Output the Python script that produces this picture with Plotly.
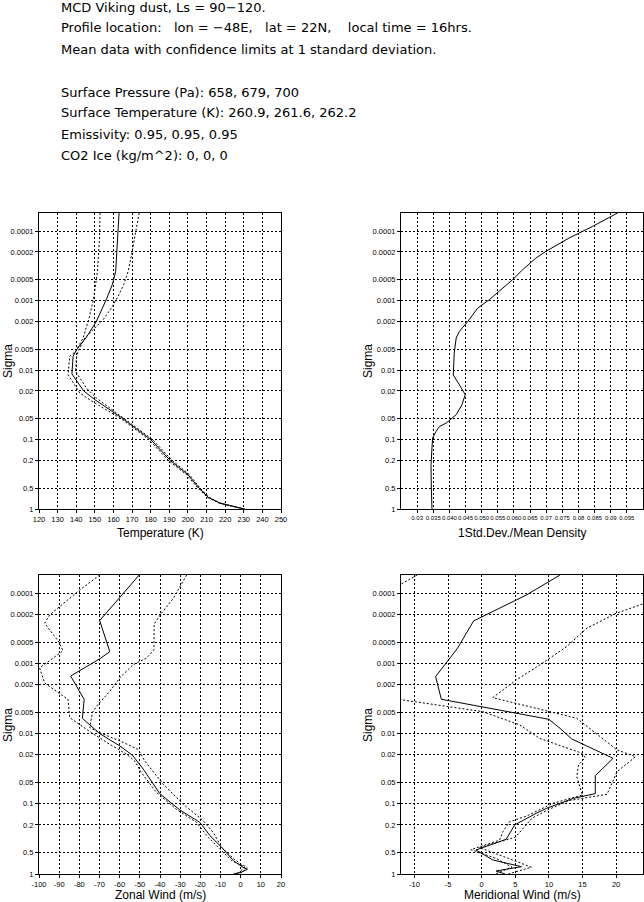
import plotly.graph_objects as go

# ---------------- data ----------------
sigma_ticks = [1, 0.5, 0.2, 0.1, 0.05, 0.02, 0.01, 0.005, 0.002, 0.001, 0.0005, 0.0002, 0.0001]
sigma_tick_text = ["1", "0.5", "0.2", "0.1", "0.05", "0.02", "0.01", "0.005", "0.002", "0.001", "0.0005", "0.0002", "0.0001"]

# Temperature (K)
sig_T_mean = [5.5e-5, 1e-4, 2e-4, 3.8e-4, 5.9e-4, 1e-3, 2e-3, 3.28e-3, 5e-3, 6.35e-3, 0.0114, 0.02, 0.0267, 0.05, 0.1, 0.2, 0.32, 0.5, 0.68, 0.82, 0.915, 1.0]
T_mean = [163.0, 162.5, 162.0, 161.2, 159.4, 155.9, 150.8, 145.8, 140.4, 138.3, 137.7, 144.0, 150.0, 165.0, 180.0, 190.5, 200.0, 206.0, 211.0, 217.0, 224.0, 230.3]
sig_T_lo = [5.5e-5, 1.26e-4, 3.8e-4, 9.2e-4, 1.79e-3, 3.46e-3, 5.4e-3, 6.35e-3, 0.0118, 0.0138, 0.0214, 0.0282, 0.05, 0.1, 0.2, 0.32, 0.5, 0.68, 0.82, 0.915, 1.0]
T_lo = [152.8, 152.5, 151.4, 149.4, 146.9, 143.7, 139.7, 136.5, 135.6, 137.4, 141.9, 148.5, 164.0, 179.0, 189.5, 199.2, 205.4, 210.4, 216.6, 223.6, 230.0]
sig_T_hi = [5.5e-5, 1.26e-4, 2.2e-4, 3.8e-4, 5.9e-4, 8.7e-4, 1.28e-3, 1.89e-3, 2.63e-3, 3.46e-3, 5.4e-3, 6.7e-3, 0.0105, 0.0131, 0.0182, 0.0253, 0.05, 0.1, 0.2, 0.32, 0.5, 0.68, 0.82, 0.915, 1.0]
T_hi = [173.8, 171.5, 169.7, 167.9, 165.5, 162.5, 158.9, 154.4, 149.0, 144.6, 141.0, 140.1, 139.7, 141.9, 145.5, 150.8, 166.0, 181.0, 191.5, 200.8, 206.6, 211.6, 217.4, 224.4, 230.6]

# 1 Std.Dev./Mean density
sig_D = [5.5e-5, 8.6e-5, 1.26e-4, 1.96e-4, 2.45e-4, 3.6e-4, 5e-4, 7e-4, 9.7e-4, 1.28e-3, 2.0e-3, 2.78e-3, 3.46e-3, 5.7e-3, 9.4e-3, 0.0118, 0.0163, 0.0226, 0.0315, 0.044, 0.058, 0.065, 0.076, 0.095, 0.132, 0.23, 0.5, 1.0]
D_ratio = [0.0921, 0.0843, 0.0771, 0.0699, 0.0668, 0.0627, 0.0596, 0.0560, 0.0524, 0.0488, 0.0457, 0.0431, 0.0421, 0.0415, 0.0412, 0.0412, 0.0431, 0.0449, 0.0439, 0.0421, 0.0390, 0.0369, 0.0359, 0.0348, 0.0346, 0.0343, 0.0344, 0.0346]

# Zonal wind (m/s)
sig_U_mean = [5.5e-5, 2.45e-4, 6.8e-4, 8.6e-4, 1.51e-3, 3.25e-3, 6.05e-3, 0.01, 0.015, 0.0204, 0.032, 0.0716, 0.123, 0.184, 0.285, 0.418, 0.645, 0.80, 0.86, 0.95, 1.0]
U_mean = [-50.3, -69.9, -64.9, -69.9, -84.3, -77.6, -78.5, -69.9, -59.9, -53.6, -48.3, -40.1, -30.1, -20.2, -15.2, -9.4, -3.6, 1.0, 3.3, 0.0, -3.6]
sig_U_lo = [5.5e-5, 9e-5, 2.03e-4, 2.67e-4, 4.97e-4, 6.6e-4, 1.16e-3, 1.9e-3, 2.8e-3, 3.25e-3, 5.9e-3, 7.4e-3, 9.7e-3, 0.0142, 0.0196, 0.0246, 0.036, 0.069, 0.12, 0.184, 0.30, 0.418, 0.645, 0.80, 0.95, 1.0]
U_lo = [-69.9, -79.8, -94.7, -97.2, -90.1, -88.1, -99.7, -97.2, -88.9, -85.6, -84.8, -79.8, -74.0, -64.9, -56.6, -52.5, -49.2, -41.7, -31.8, -21.9, -16.1, -11.1, -4.5, 2.2, -1.0, -3.0]
sig_U_hi = [5.5e-5, 1.18e-4, 2.0e-4, 2.75e-4, 6.4e-4, 8.4e-4, 1.04e-3, 1.6e-3, 2.5e-3, 3.83e-3, 5.0e-3, 8.2e-3, 9.7e-3, 0.0127, 0.0168, 0.0246, 0.0527, 0.101, 0.175, 0.256, 0.418, 0.63, 0.82, 0.95, 1.0]
U_hi = [-26.8, -33.4, -39.7, -42.9, -43.0, -46.7, -53.3, -59.9, -64.9, -70.7, -73.5, -74.8, -69.9, -59.9, -50.8, -47.5, -38.4, -28.5, -18.5, -13.6, -9.4, -2.8, 3.3, 0.5, -2.0]

# Meridional wind (m/s)
sig_V_mean = [5.5e-5, 1.06e-4, 2.03e-4, 2.48e-4, 6.08e-4, 1.54e-3, 3.24e-3, 6.25e-3, 8.4e-3, 0.0119, 0.0225, 0.0397, 0.0716, 0.0835, 0.116, 0.136, 0.2, 0.32, 0.455, 0.63, 0.786, 0.906, 1.0]
V_mean = [11.65, 6.65, 0.65, -1.2, -3.6, -6.85, -6.0, 10.0, 11.65, 13.4, 19.55, 16.9, 16.9, 13.65, 9.65, 8.15, 4.9, 3.65, -0.85, 1.65, 5.9, 2.15, 3.5]
sig_V_lo = [5.5e-5, 7.6e-5, 3.0e-4, 1.5e-3, 3.3e-3, 4.86e-3, 7.5e-3, 0.0117, 0.019, 0.0219, 0.028, 0.041, 0.075, 0.098, 0.15, 0.18, 0.25, 0.33, 0.45, 0.60, 0.80, 1.0]
V_lo = [-9.6, -12.2, -16.0, -16.0, -11.85, 0.15, 5.65, 8.65, 14.9, 15.4, 14.4, 14.15, 15.0, 10.65, 6.65, 4.15, 3.15, 2.65, -1.6, 2.15, 4.5, 2.0]
sig_V_hi = [5.5e-5, 1.4e-4, 1.93e-4, 3.15e-4, 5.75e-4, 1.05e-3, 1.72e-3, 3.07e-3, 6.05e-3, 0.0171, 0.0213, 0.0348, 0.0732, 0.09, 0.12, 0.16, 0.3, 0.42, 0.6, 0.8, 1.0]
V_hi = [35.0, 24.15, 20.0, 15.65, 12.65, 8.65, 5.15, 1.65, 14.15, 20.15, 22.9, 20.15, 18.65, 13.0, 10.0, 7.5, 5.0, -0.35, 4.0, 7.4, 4.0]

# axis tick values
T_ticks = [120, 130, 140, 150, 160, 170, 180, 190, 200, 210, 220, 230, 240, 250]
D_ticks = [0.03, 0.035, 0.04, 0.045, 0.05, 0.055, 0.06, 0.065, 0.07, 0.075, 0.08, 0.085, 0.09, 0.095]
D_tick_text = ["0.03", "0.035", "0.040", "0.045", "0.050", "0.055", "0.060", "0.065", "0.07", "0.075", "0.08", "0.085", "0.09", "0.095"]
U_ticks = [-100, -90, -80, -70, -60, -50, -40, -30, -20, -10, 0, 10, 20]
V_ticks = [-10, -5, 0, 5, 10, 15, 20]

NB = "\u00a0"
header_lines = [
    "MCD Viking dust, Ls = 90\u2212120.",
    "Profile location:" + NB * 2 + " lon = \u221248E," + NB * 2 + " lat = 22N," + NB * 3 + " local time = 16hrs.",
    "Mean data with confidence limits at 1 standard deviation.",
    "",
    "Surface Pressure (Pa): 658, 679, 700",
    "Surface Temperature (K): 260.9, 261.6, 262.2",
    "Emissivity: 0.95, 0.95, 0.95",
    "CO2 Ice (kg/m^2): 0, 0, 0",
]

# ---------------- figure ----------------
W, H = 644, 902
FONT = "Liberation Sans"
HFONT = "DejaVu Sans"
fig = go.Figure()

def add(xa, ya, x, y, dash):
    fig.add_trace(go.Scatter(x=x, y=y, xaxis=xa, yaxis=ya, mode="lines",
                             line=dict(color="black", width=1, dash=dash),
                             showlegend=False, hoverinfo="skip"))

DOT = "2px,2px"
add("x", "y", T_lo, sig_T_lo, DOT)
add("x", "y", T_hi, sig_T_hi, DOT)
add("x", "y", T_mean, sig_T_mean, "solid")
add("x2", "y2", D_ratio, sig_D, "solid")
add("x3", "y3", U_lo, sig_U_lo, DOT)
add("x3", "y3", U_hi, sig_U_hi, DOT)
add("x3", "y3", U_mean, sig_U_mean, "solid")
add("x4", "y4", V_lo, sig_V_lo, DOT)
add("x4", "y4", V_hi, sig_V_hi, DOT)
add("x4", "y4", V_mean, sig_V_mean, "solid")

L = [39 / W, 281 / W]
R = [401 / W, 643 / W]
TOP = [1 - 509 / H, 1 - 213 / H]
BOT = [1 - 874 / H, 1 - 575 / H]

common = dict(showline=True, linecolor="black", linewidth=1, mirror=True,
              ticks="outside", ticklen=3, tickcolor="black", tickwidth=1,
              showgrid=True, gridcolor="black", gridwidth=1, griddash=DOT,
              zeroline=False, tickangle=0, automargin=False,
              tickfont=dict(family=FONT, size=7.5, color="black"))

def yax(dom, anchor):
    return dict(common, type="log", range=[0, -4.26], domain=dom, anchor=anchor,
                tickmode="array", tickvals=sigma_ticks, ticktext=sigma_tick_text)

fig.update_layout(
    width=W, height=H, margin=dict(l=0, r=0, t=0, b=0, pad=0), autosize=False,
    paper_bgcolor="white", plot_bgcolor="white",
    xaxis=dict(common, domain=L, anchor="y", range=[120, 250], tickmode="array",
               tickvals=T_ticks, ticktext=[str(v) for v in T_ticks]),
    yaxis=yax(TOP, "x"),
    xaxis2=dict(common, domain=R, anchor="y2", range=[0.025, 0.1], tickmode="array",
                tickvals=D_ticks, ticktext=D_tick_text,
                tickfont=dict(family=FONT, size=6, color="black")),
    yaxis2=yax(TOP, "x2"),
    xaxis3=dict(common, domain=L, anchor="y3", range=[-100, 20], tickmode="array",
                tickvals=U_ticks, ticktext=[str(v) for v in U_ticks]),
    yaxis3=yax(BOT, "x3"),
    xaxis4=dict(common, domain=R, anchor="y4", range=[-12, 24], tickmode="array",
                tickvals=V_ticks, ticktext=[str(v) for v in V_ticks]),
    yaxis4=yax(BOT, "x4"),
)

ann = []
ys = [7, 28, 49, 70, 92, 113, 134, 155]
for txt, yy in zip(header_lines, ys):
    if txt:
        ann.append(dict(text=txt, x=59 / W, y=1 - yy / H, xref="paper", yref="paper",
                        xanchor="left", yanchor="middle", showarrow=False,
                        font=dict(family=HFONT, size=13, color="black")))

def title(txt, x, y, angle=0):
    ann.append(dict(text=txt, x=x / W, y=1 - y / H, xref="paper", yref="paper",
                    xanchor="center", yanchor="middle", showarrow=False, textangle=angle,
                    font=dict(family=FONT, size=12, color="black")))

title("Temperature (K)", 160, 533)
title("1Std.Dev./Mean Density", 522, 533)
title("Zonal Wind (m/s)", 160, 895)
title("Meridional Wind (m/s)", 522, 895)
title("Sigma", 8, 361, -90)
title("Sigma", 368, 361, -90)
title("Sigma", 8, 725, -90)
title("Sigma", 368, 725, -90)

fig.update_layout(annotations=ann)
fig.write_html("out.html", config={"displayModeBar": False},
               post_script="document.body.style.margin='0';document.body.style.overflow='hidden';")
